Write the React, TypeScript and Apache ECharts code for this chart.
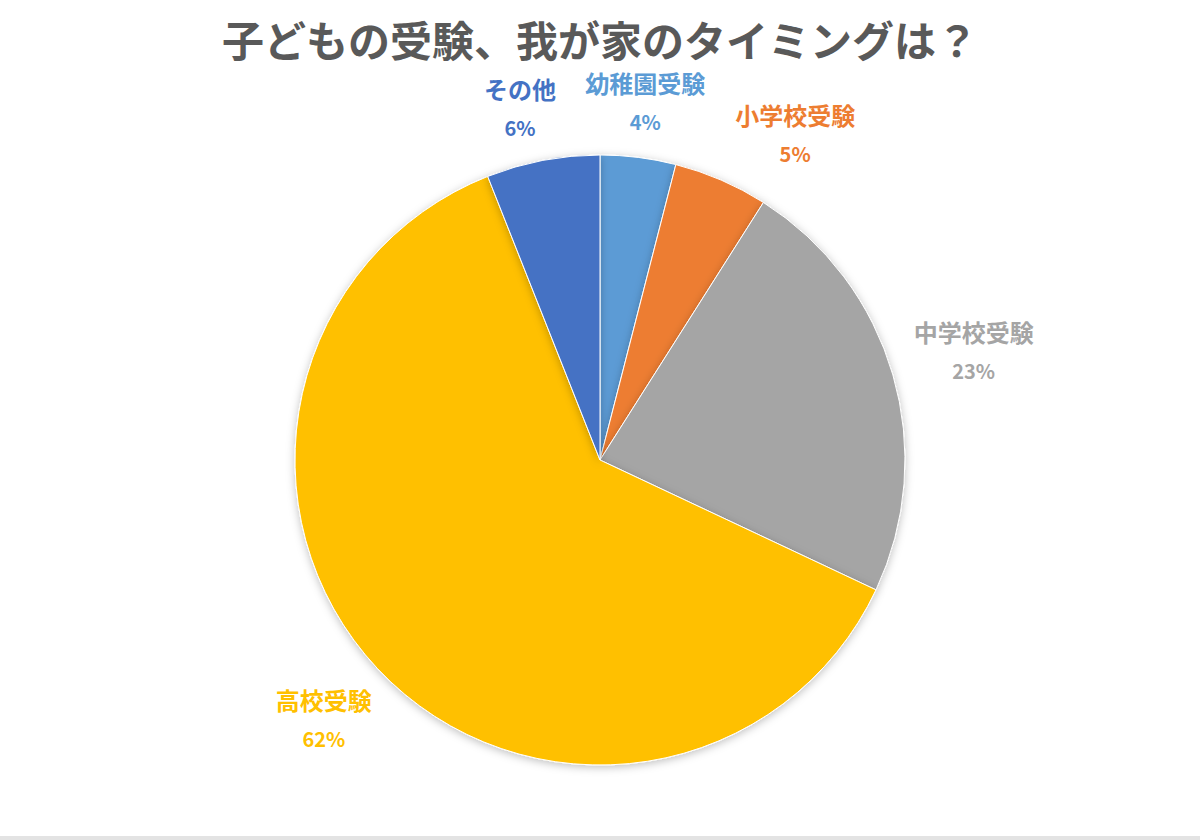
import React, { useRef, useEffect } from 'react';
import * as echarts from 'echarts';

// data (share of answers, %)
const categories = ['幼稚園受験', '小学校受験', '中学校受験', '高校受験', 'その他'];
const shares = [4, 5, 23, 62, 6];
const sliceColors = ['#5B9BD5', '#ED7D31', '#A5A5A5', '#FFC000', '#4472C4'];
const titleText = '子どもの受験、我が家のタイミングは？';

const WIDTH = 1200;
const HEIGHT = 836;
const CX = 600;
const CY = 460;
const RADIUS = 305;
const LABEL_GAP = 18;

const App: React.FC = () => {
  const chartRef = useRef<HTMLDivElement>(null);

  useEffect(() => {
    document.body.style.margin = '0';
    if (!chartRef.current) return;
    const chart = echarts.init(chartRef.current, undefined, { renderer: 'svg' });

    const total = shares.reduce((a, b) => a + b, 0);
    // mid angle of each slice, measured clockwise from 12 o'clock
    const midAngles: number[] = [];
    let acc = 0;
    shares.forEach((v) => {
      midAngles.push(((acc + v / 2) / total) * Math.PI * 2);
      acc += v;
    });

    const rich: Record<string, any> = {};
    sliceColors.forEach((c, i) => {
      rich['n' + i] = { color: c, fontSize: 24, fontWeight: 'bold', lineHeight: 39, fontFamily: 'Noto Sans CJK JP' };
      rich['p' + i] = { color: c, fontSize: 20, fontWeight: 'bold', lineHeight: 39, fontFamily: 'Noto Sans CJK JP' };
    });

    // label boxes already placed, to push later ones around the circle like Excel does
    const placed: Record<number, { x: number; y: number; w: number; h: number }> = {};

    const boxAt = (a: number, w: number, h: number) => {
      const s = Math.sin(a);
      const c = Math.cos(a);
      const d = RADIUS + LABEL_GAP + (w / 2) * Math.abs(s) + (h / 2) * Math.abs(c);
      return { x: CX + d * s, y: CY - d * c, w, h };
    };

    const overlaps = (b: { x: number; y: number; w: number; h: number }, self: number) =>
      Object.keys(placed).some((k) => {
        if (Number(k) === self) return false;
        const o = placed[Number(k)];
        return Math.abs(b.x - o.x) < (b.w + o.w) / 2 + 28 && Math.abs(b.y - o.y) < (b.h + o.h) / 2 - 20;
      });

    chart.setOption({
      animation: false,
      backgroundColor: '#ffffff',
      title: {
        text: titleText,
        left: 'center',
        top: 12,
        textStyle: {
          color: '#595959',
          fontSize: 42,
          fontWeight: 'bold',
          fontFamily: 'Noto Sans CJK JP',
        },
      },
      series: [
        {
          type: 'pie',
          center: [CX, CY],
          radius: RADIUS,
          startAngle: 90,
          clockwise: true,
          data: categories.map((name, i) => ({
            name,
            value: shares[i],
            itemStyle: { color: sliceColors[i] },
          })),
          itemStyle: {
            borderColor: '#ffffff',
            borderWidth: 1,
            shadowBlur: 8,
            shadowColor: 'rgba(0,0,0,0.25)',
            shadowOffsetY: 2,
          },
          label: {
            show: true,
            position: 'outside',
            formatter: (p: any) => `{n${p.dataIndex}|${p.name}}\n{p${p.dataIndex}|${p.value}%}`,
            rich,
          },
          labelLine: { show: false },
          labelLayout: (params: any) => {
            const i = params.dataIndex;
            const w = params.labelRect.width;
            const h = params.labelRect.height;
            const step = Math.PI / 360;
            let box = boxAt(midAngles[i], w, h);
            for (let n = 1; n < 200 && overlaps(box, i); n++) {
              const delta = (n % 2 === 1 ? 1 : -1) * Math.ceil(n / 2) * step;
              box = boxAt(midAngles[i] + delta, w, h);
            }
            placed[i] = box;
            return {
              x: box.x,
              y: box.y,
              align: 'center',
              verticalAlign: 'middle',
            };
          },
        },
      ],
    });

    return () => {
      chart.dispose();
    };
  }, []);

  return (
    <div style={{ width: WIDTH, height: 840, background: '#ffffff' }}>
      <div ref={chartRef} style={{ width: WIDTH, height: HEIGHT }} />
      <div style={{ width: WIDTH, height: 4, background: '#e3e3e3' }} />
    </div>
  );
};

export default App;
